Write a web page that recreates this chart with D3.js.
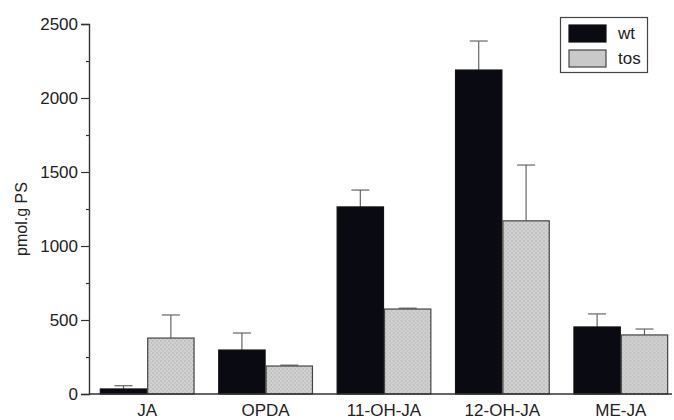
<!DOCTYPE html>
<html>
<head>
<meta charset="utf-8">
<script src="https://cdn.jsdelivr.net/npm/d3@7"></script>
<style>
  html, body { margin: 0; padding: 0; background: #fff; }
  svg { display: block; }
</style>
</head>
<body>
<svg id="chart" width="674" height="420"></svg>
<script>
// Jasmonate levels per compound, wild type vs. tos mutant
const categories = ["JA", "OPDA", "11-OH-JA", "12-OH-JA", "ME-JA"];
const seriesNames = ["wt", "tos"];
const wtValues  = [34, 297, 1264, 2189, 453];
const wtErrors  = [22, 115, 114, 196, 88];
const tosValues = [378, 189, 574, 1170, 399];
const tosErrors = [156, 6, 6, 377, 40];
const yTicks = [0, 500, 1000, 1500, 2000, 2500];
const yMinorTicks = [250, 750, 1250, 1750, 2250];
const yLabel = "pmol.g PS";

const svg = d3.select("#chart");
const font = "'Liberation Sans', Arial, sans-serif";

const x0 = d3.scaleBand().domain(categories).range([88, 680]).paddingInner(0.2).paddingOuter(0.1);
const x1 = d3.scaleBand().domain(seriesNames).range([0, x0.bandwidth()]);
const y = d3.scaleLinear().domain([0, 2500]).range([394, 24]);

// dotted grey fill for the mutant bars
const defs = svg.append("defs");
const pat = defs.append("pattern").attr("id", "dots").attr("patternUnits", "userSpaceOnUse")
  .attr("width", 4).attr("height", 4);
pat.append("rect").attr("width", 4).attr("height", 4).attr("fill", "#d2d2d2");
pat.append("circle").attr("cx", 1).attr("cy", 1).attr("r", 0.8).attr("fill", "#aaaaaa");
pat.append("circle").attr("cx", 3).attr("cy", 3).attr("r", 0.8).attr("fill", "#b6b6b6");

const rows = categories.map((c, i) => ({
  cat: c,
  bars: [
    { s: "wt", v: wtValues[i], e: wtErrors[i] },
    { s: "tos", v: tosValues[i], e: tosErrors[i] }
  ]
}));

const fills = { wt: "#0a0a12", tos: "url(#dots)" };
const strokes = { wt: "#111", tos: "#444" };

const g = svg.append("g");
const groups = g.selectAll("g.grp").data(rows).enter().append("g")
  .attr("transform", d => `translate(${x0(d.cat)},0)`);

// error bars (drawn first so the bar covers the lower part)
groups.selectAll("g.err").data(d => d.bars).enter().append("g").each(function(d) {
  const cx = x1(d.s) + x1.bandwidth() / 2;
  const sel = d3.select(this);
  sel.append("line").attr("x1", cx).attr("x2", cx).attr("y1", y(d.v)).attr("y2", y(d.v + d.e))
    .attr("stroke", "#666").attr("stroke-width", 1.2);
  sel.append("line").attr("x1", cx - 9).attr("x2", cx + 9).attr("y1", y(d.v + d.e)).attr("y2", y(d.v + d.e))
    .attr("stroke", "#666").attr("stroke-width", 1.2);
});

groups.selectAll("rect").data(d => d.bars).enter().append("rect")
  .attr("x", d => x1(d.s) + 0.5)
  .attr("width", x1.bandwidth() - 1)
  .attr("y", d => y(d.v))
  .attr("height", d => y(0) - y(d.v))
  .attr("fill", d => fills[d.s])
  .attr("stroke", d => strokes[d.s])
  .attr("stroke-width", 1.2);

// y axis
const yAxis = d3.axisLeft(y).tickValues(yTicks).tickSize(8).tickPadding(3).tickFormat(d3.format("d"));
const ya = svg.append("g").attr("transform", "translate(89,0)").call(yAxis);
ya.select(".domain").attr("stroke", "#333").attr("stroke-width", 1.4);
ya.selectAll(".tick line").attr("stroke", "#333").attr("stroke-width", 1.2);
ya.selectAll(".tick text").attr("font-family", font).attr("font-size", 17).attr("fill", "#222");
const yMinor = d3.axisLeft(y).tickValues(yMinorTicks).tickSize(3).tickFormat("");
const ym = svg.append("g").attr("transform", "translate(89,0)").call(yMinor);
ym.select(".domain").remove();
ym.selectAll(".tick line").attr("stroke", "#333").attr("stroke-width", 1.2);

// x axis
const xAxis = d3.axisBottom(x0).tickSize(0).tickPadding(10);
const xa = svg.append("g").attr("transform", `translate(0,${y(0)})`).call(xAxis);
xa.select(".domain").attr("d", "M89,0H672").attr("stroke", "#333").attr("stroke-width", 1.4);
xa.selectAll(".tick text").attr("font-family", font).attr("font-size", 17).attr("fill", "#222");

// y label
svg.append("text")
  .attr("transform", "translate(27,219) rotate(-90)")
  .attr("text-anchor", "middle")
  .attr("font-family", font).attr("font-size", 16).attr("fill", "#222")
  .text(yLabel);

// legend
const lg = svg.append("g");
lg.append("rect").attr("x", 560.5).attr("y", 17.5).attr("width", 87).attr("height", 55)
  .attr("fill", "#fff").attr("stroke", "#444").attr("stroke-width", 1.2);
seriesNames.forEach((s, i) => {
  lg.append("rect").attr("x", 569).attr("y", 25 + i * 25).attr("width", 37).attr("height", 17)
    .attr("fill", s === "wt" ? "#0a0a12" : "#c9c9c9").attr("stroke", strokes[s]).attr("stroke-width", 1.2);
  lg.append("text").attr("x", 618).attr("y", 39 + i * 25)
    .attr("font-family", font).attr("font-size", 17).attr("fill", "#222").text(s);
});
</script>
</body>
</html>
